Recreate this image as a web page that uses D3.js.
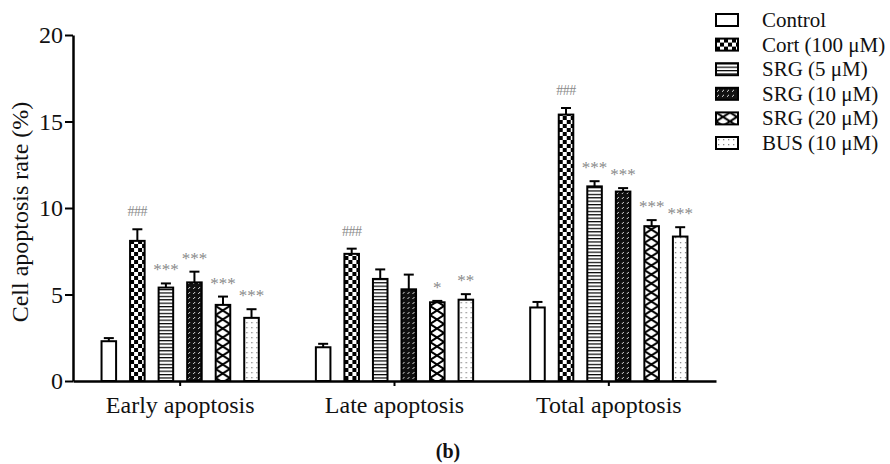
<!DOCTYPE html>
<html>
<head>
<meta charset="utf-8">
<script src="https://cdn.jsdelivr.net/npm/d3@7"></script>
<style>
  body { margin: 0; background: #fff; }
  text { font-family: "Liberation Serif", "Times New Roman", serif; }
</style>
</head>
<body>
<div class="chart"></div>
<script>
var svgWidth = 890;
var svgHeight = 464;

// data
var groups = ["Early apoptosis", "Late apoptosis", "Total apoptosis"];
var series = ["Control", "Cort (100 \u03bcM)", "SRG (5 \u03bcM)", "SRG (10 \u03bcM)", "SRG (20 \u03bcM)", "BUS (10 \u03bcM)"];
var means = [
  [2.3, 8.1, 5.4, 5.7, 4.4, 3.65],
  [1.95, 7.35, 5.9, 5.3, 4.55, 4.7],
  [4.25, 15.4, 11.25, 10.95, 8.95, 8.35]
];
var errors = [
  [0.18, 0.67, 0.24, 0.62, 0.48, 0.5],
  [0.2, 0.3, 0.55, 0.85, 0.08, 0.32],
  [0.32, 0.38, 0.3, 0.2, 0.35, 0.54]
];
var marks = [
  ["", "###", "***", "***", "***", "***"],
  ["", "###", "", "", "*", "**"],
  ["", "###", "***", "***", "***", "***"]
];
var yTicks = [0, 5, 10, 15, 20];
var patternIds = ["pNone", "pCheck", "pHLines", "pDense", "pCross", "pDots"];

var svg = d3.select(".chart")
  .append("svg")
  .attr("width", svgWidth)
  .attr("height", svgHeight);

// Patterns for the bars
var defs = svg.append("defs");

var pCheck = defs.append("pattern").attr("id", "pCheck")
  .attr("patternUnits", "userSpaceOnUse").attr("width", 8).attr("height", 8);
pCheck.append("rect").attr("width", 8).attr("height", 8).attr("fill", "#fff");
pCheck.append("rect").attr("width", 4).attr("height", 4).attr("fill", "#000");
pCheck.append("rect").attr("x", 4).attr("y", 4).attr("width", 4).attr("height", 4).attr("fill", "#000");

var pH = defs.append("pattern").attr("id", "pHLines")
  .attr("patternUnits", "userSpaceOnUse").attr("width", 6).attr("height", 3.4);
pH.append("rect").attr("width", 6).attr("height", 3.4).attr("fill", "#fff");
pH.append("rect").attr("y", 0).attr("width", 6).attr("height", 1.2).attr("fill", "#000");

var pD = defs.append("pattern").attr("id", "pDense")
  .attr("patternUnits", "userSpaceOnUse").attr("width", 5).attr("height", 5);
pD.append("rect").attr("width", 5).attr("height", 5).attr("fill", "#111");
pD.append("path").attr("d", "M1,4 L3,2").attr("stroke", "#ddd").attr("stroke-width", 1);

var pX = defs.append("pattern").attr("id", "pCross")
  .attr("patternUnits", "userSpaceOnUse").attr("width", 14).attr("height", 9);
pX.append("rect").attr("width", 14).attr("height", 9).attr("fill", "#fff");
pX.append("path").attr("d", "M0,0 L14,9 M14,0 L0,9").attr("stroke", "#000").attr("stroke-width", 2);

var pDot = defs.append("pattern").attr("id", "pDots")
  .attr("patternUnits", "userSpaceOnUse").attr("width", 5).attr("height", 5);
pDot.append("rect").attr("width", 5).attr("height", 5).attr("fill", "#fff");
pDot.append("rect").attr("x", 2).attr("y", 2).attr("width", 1.3).attr("height", 1.3).attr("fill", "#888");

// Scales
var x0 = d3.scaleBand().domain(groups).range([73, 716]).padding(0);
var x1 = d3.scaleBand().domain(d3.range(series.length))
  .range([0, x0.bandwidth()]).paddingInner(0.49).paddingOuter(1.0);
var y = d3.scaleLinear().domain([0, 20]).range([381, 35]);

// Bars
var chart = svg.append("g");
groups.forEach(function(g, gi) {
  series.forEach(function(s, si) {
    var bx = x0(g) + x1(si);
    var bw = x1.bandwidth();
    var v = means[gi][si];
    var e = errors[gi][si];
    var cx = bx + bw / 2;
    var bar = chart.append("g").attr("transform", `translate(${bx},0)`);
    bar.append("rect")
      .attr("x", 0)
      .attr("y", y(v))
      .attr("width", bw)
      .attr("height", y(0) - y(v))
      .attr("fill", si === 0 ? "#fff" : `url(#${patternIds[si]})`)
      .attr("stroke", "#000")
      .attr("stroke-width", 2);
    // error bar (upper only)
    chart.append("line")
      .attr("x1", cx).attr("x2", cx)
      .attr("y1", y(v)).attr("y2", y(v + e))
      .attr("stroke", "#000").attr("stroke-width", 2);
    chart.append("line")
      .attr("x1", cx - 5).attr("x2", cx + 5)
      .attr("y1", y(v + e)).attr("y2", y(v + e))
      .attr("stroke", "#000").attr("stroke-width", 2);
    var m = marks[gi][si];
    if (m) {
      var isHash = m[0] === "#";
      chart.append("text")
        .attr("x", cx)
        .attr("y", y(v + e) - (isHash ? 13 : 8))
        .attr("text-anchor", "middle")
        .attr("fill", "#8a8a8a")
        .style("font-size", isHash ? "14px" : "17px")
        .style("letter-spacing", isHash ? "-0.5px" : "0px")
        .text(m);
    }
  });
});

// Axes
var leftAxis = d3.axisLeft(y).tickValues(yTicks).tickSize(8).tickPadding(2).tickSizeOuter(0);
var gy = svg.append("g").attr("transform", "translate(73,0)").call(leftAxis);
gy.select(".domain").attr("stroke-width", 2.5);
gy.selectAll(".tick line").attr("stroke-width", 2);
gy.selectAll(".tick text").style("font-size", "24px").style("font-family", "Liberation Serif").attr("fill", "#111");

var bottomAxis = d3.axisBottom(x0).tickSize(5).tickPadding(10).tickSizeOuter(0);
var gx = svg.append("g").attr("transform", "translate(0,381)").call(bottomAxis);
gx.select(".domain").attr("stroke-width", 2.5);
gx.selectAll(".tick line").attr("stroke-width", 2);
gx.selectAll(".tick text").style("font-size", "24px").style("font-family", "Liberation Serif").attr("fill", "#111");

// Axis title
svg.append("text")
  .attr("transform", "translate(28,212) rotate(-90)")
  .attr("text-anchor", "middle")
  .style("font-size", "24px")
  .attr("fill", "#111")
  .text("Cell apoptosis rate (%)");

// Legend
var legend = svg.append("g").attr("transform", "translate(716,14)");
series.forEach(function(s, si) {
  var row = legend.append("g").attr("transform", `translate(0,${si * 24.6})`);
  row.append("rect")
    .attr("x", 0).attr("y", 0).attr("width", 22).attr("height", 12)
    .attr("fill", si === 0 ? "#fff" : `url(#${patternIds[si]})`)
    .attr("stroke", "#000").attr("stroke-width", 2);
  row.append("text")
    .attr("x", 46).attr("y", 13)
    .style("font-size", "21px")
    .attr("fill", "#111")
    .text(s);
});

// Panel label
svg.append("text")
  .attr("x", 448).attr("y", 458)
  .attr("text-anchor", "middle")
  .style("font-size", "20px")
  .style("font-weight", "bold")
  .attr("fill", "#111")
  .text("(b)");
</script>
</body>
</html>
